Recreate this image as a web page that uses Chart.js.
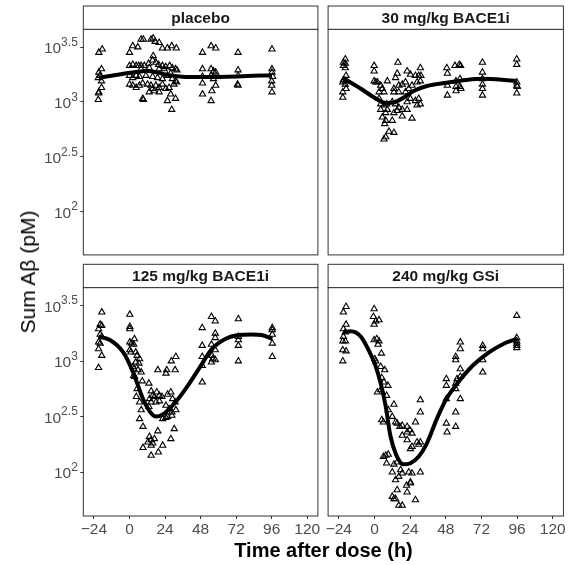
<!DOCTYPE html>
<html>
<head>
<meta charset="utf-8">
<script src="https://cdn.jsdelivr.net/npm/chart.js@4/dist/chart.umd.min.js"></script>
<style>
  body { margin: 0; background: #fff; }
  #wrap { position: relative; width: 569px; height: 565px; font-family: "Liberation Sans", Arial, sans-serif; }
  #wrap canvas { position: absolute; }
  .ttl { position: absolute; white-space: nowrap; color: #000; font-size: 20px; line-height: 22px; }
</style>
</head>
<body>
<div id="wrap">
  <canvas id="cTL" width="323" height="260" style="left:0;top:0"></canvas>
  <canvas id="cTR" width="246" height="260" style="left:323px;top:0"></canvas>
  <canvas id="cBL" width="323" height="305" style="left:0;top:260px"></canvas>
  <canvas id="cBR" width="246" height="305" style="left:323px;top:260px"></canvas>
  <div class="ttl" style="left:83px;width:481px;top:539px;text-align:center;font-weight:bold">Time after dose (h)</div>
  <div class="ttl" style="left:28px;top:272px;font-size:21px;transform:translate(-50%,-50%) rotate(-90deg)">Sum Aβ (pM)</div>
</div>
<script>
// Valeurs : [temps (h), log10 de Sum Abeta (pM)]
const panelTitles = ["placebo", "30 mg/kg BACE1i", "125 mg/kg BACE1i", "240 mg/kg GSi"];

const xTickValues = [-24, 0, 24, 48, 72, 96, 120];
const xTickLabels = ["\u221224", "0", "24", "48", "72", "96", "120"];
const yTickValues = [2, 2.5, 3, 3.5];
const yTickExps = ["2", "2.5", "3", "3.5"];

const placeboPts = [
  [-18.4,3.48],[-20.7,3.45],[-18.9,3.30],[-20.7,3.27],[-20.0,3.24],[-21.1,3.22],[-18.9,3.19],[-18.9,3.13],[-20.7,3.09],[-20.9,3.08],[-21.1,3.02],
  [2.2,3.51],[5.6,3.50],[0.0,3.45],[7.8,3.57],[9.3,3.57],[14.5,3.57],[16.0,3.58],[17.3,3.55],[20.0,3.54],[22.2,3.49],[25.6,3.49],[28.5,3.51],[31.6,3.49],
  [0.0,3.33],[2.2,3.34],[4.5,3.33],[6.2,3.33],[7.8,3.33],[10.0,3.33],[12.9,3.35],[16.0,3.42],[15.6,3.38],[17.8,3.36],[19.6,3.34],[22.2,3.33],[24.5,3.32],
  [27.1,3.33],[28.9,3.31],[31.1,3.30],[32.0,3.29],[23.3,3.30],[20.0,3.30],[13.3,3.31],[7.8,3.30],
  [0.0,3.24],[2.2,3.22],[4.5,3.24],[6.7,3.23],[11.1,3.24],[15.6,3.23],[18.9,3.22],[22.2,3.21],[25.6,3.24],[27.8,3.26],[28.9,3.21],[31.1,3.19],
  [0.0,3.16],[2.2,3.15],[4.5,3.13],[6.7,3.15],[8.9,3.17],[12.2,3.16],[14.5,3.15],[15.6,3.12],[17.8,3.15],[20.0,3.13],[22.2,3.16],[24.5,3.12],[26.7,3.13],
  [30.0,3.16],[31.8,3.18],
  [8.9,3.03],[13.3,3.09],[16.7,3.10],[20.0,3.09],[27.8,3.07],[31.1,3.03],[25.6,3.01],[28.5,2.93],[9.3,3.02],
  [49.3,3.45],[55.1,3.51],[58.2,3.49],[49.3,3.30],[55.1,3.30],[56.7,3.28],[58.2,3.27],[49.3,3.23],[55.1,3.24],[56.7,3.21],[58.2,3.15],[49.3,3.17],
  [49.3,3.07],[55.6,3.10],[55.1,3.01],
  [73.3,3.45],[73.3,3.29],[73.3,3.24],[72.9,3.16],[73.3,3.15],
  [96.2,3.48],[96.2,3.30],[96.2,3.27],[96.7,3.23],[96.0,3.19],[96.0,3.15],[96.2,3.09]
];
const placeboFit = [[-20.7,3.22],[-5,3.255],[8.9,3.28],[11.1,3.285],[18,3.27],[26.7,3.244],[35.6,3.229],[48.9,3.226],[73.3,3.232],[96.2,3.244]];

const bace30Pts = [
  [-19.6,3.39],[-20.9,3.36],[-19.6,3.35],[-20.9,3.33],[-19.6,3.31],[-19.1,3.24],[-20.9,3.20],[-19.6,3.19],[-21.3,3.18],[-19.6,3.16],[-19.1,3.12],
  [-21.3,3.09],[-21.3,3.04],
  [-0.2,3.33],[-0.2,3.28],[15.8,3.36],[30.9,3.31],[22.0,3.28],[-0.2,3.19],[0.9,3.18],[2.0,3.18],[8.7,3.19],[15.3,3.26],[14.2,3.22],[24.2,3.25],
  [27.6,3.24],[29.8,3.24],[31.3,3.24],[28.7,3.18],[30.9,3.19],[20.9,3.18],[18.7,3.16],[16.4,3.15],[13.1,3.12],[4.2,3.15],[5.3,3.12],[3.1,3.09],
  [6.4,3.09],[13.1,3.09],[16.4,3.09],[3.1,3.03],[4.2,2.98],[6.4,2.97],[8.2,2.98],[12.0,3.00],[14.2,2.98],[16.4,2.95],[18.7,2.93],[22.0,2.93],
  [24.2,3.03],[27.6,3.01],[29.8,3.03],[30.9,2.98],[28.7,2.97],[7.6,2.90],[5.3,2.86],[7.6,2.83],[12.0,2.83],[15.3,2.92],[18.7,2.87],[25.3,2.85],
  [6.9,2.80],[9.8,2.73],[13.1,2.72],[7.6,2.68],[6.4,2.66],[20.9,3.09],[23.1,3.12],[25.3,3.15],[4.2,2.93],[8.7,2.93],[13.1,2.90],[22.0,3.00],
  [48.7,3.31],[49.1,3.26],[54.2,3.33],[57.1,3.34],[58.0,3.33],[49.1,3.15],[54.9,3.19],[57.6,3.21],[54.9,3.14],[57.6,3.14],[54.9,3.10],[58.2,3.12],
  [49.1,3.06],
  [72.7,3.36],[72.7,3.27],[72.7,3.21],[72.7,3.16],[72.7,3.12],[72.7,3.06],
  [95.8,3.39],[95.8,3.34],[95.8,3.18],[95.8,3.15],[96.2,3.14],[95.8,3.08]
];
const bace30Fit = [[-20.9,3.215],[-9.1,3.12],[-0.2,3.04],[7.6,2.99],[14.2,3.00],[19.8,3.04],[26.4,3.10],[35.3,3.145],[48.7,3.175],[62,3.20],
  [73.1,3.21],[84.2,3.205],[95.8,3.19]];

const bace125Pts = [
  [-18.7,3.44],[-19.8,3.33],[-18.7,3.32],[-20.9,3.29],[-19.8,3.24],[-18.7,3.22],[-20.9,3.17],[-19.8,3.16],[-20.9,3.11],[-18.7,3.05],[-20.9,2.94],
  [0.2,3.42],[0.2,3.31],[0.2,3.29],[0.2,3.17],[1.3,3.16],[0.2,3.10],[0.9,3.08],[3.3,3.20],
  [2.8,3.15],[4.2,3.08],[5.1,3.05],[6.8,3.02],[6.4,2.98],[4.2,2.99],[2.4,2.95],[3.0,2.93],
  [2.8,2.87],[3.5,2.86],[5.7,2.92],[7.9,2.90],[8.6,2.82],[5.1,2.75],[4.6,2.68],[6.8,2.63],[7.9,2.56],[6.8,2.48],[9.1,2.41],
  [13.1,2.80],[14.6,2.73],[15.7,2.69],[13.5,2.66],[16.8,2.68],[18.4,2.72],[20.2,2.69],[21.9,2.68],[14.6,2.63],[17.9,2.63],[20.2,2.64],[13.1,2.59],
  [13.5,2.32],[14.6,2.29],[12.4,2.27],[15.7,2.26],[16.8,2.30],[14.6,2.24],[14.6,2.15],[9.1,2.22],[19.1,2.37],[22.4,2.24],[19.5,2.18],[27.9,2.30],
  [19.1,2.92],[25.1,2.92],[24.6,2.89],[28.2,3.00],[31.3,3.04],[30.8,2.92],[25.7,2.70],[27.9,2.72],[29.1,2.66],[24.6,2.60],[26.8,2.57],[28.6,2.54],
  [31.3,2.56],[25.7,2.50],[28.6,2.51],[30.8,2.63],[30.2,2.39],[22.4,2.48],[24.6,2.49],
  [49.1,3.30],[49.1,3.14],[49.1,3.04],[49.1,2.96],[49.1,2.81],[55.3,3.40],[57.9,3.36],[57.9,3.25],[57.9,3.21],[55.3,3.15],[57.9,3.10],[55.7,3.05],
  [55.3,2.99],[57.9,3.01],[56.2,3.02],
  [73.5,3.38],[73.5,3.22],[73.5,3.19],[73.5,3.14],[73.5,3.00],
  [96.4,3.30],[96.4,3.28],[96.4,3.24],[96.4,3.16],[96.4,3.04]
];
const bace125Fit = [[-20.9,3.22],[-13.2,3.19],[-4.3,3.08],[2.4,2.90],[9.1,2.66],[14.6,2.53],[17.9,2.50],[22.4,2.52],[29.1,2.60],[37.9,2.75],
  [46.8,2.93],[55.7,3.11],[64.6,3.20],[73.5,3.235],[82.4,3.24],[89.1,3.235],[96.4,3.20]];

const gsi240Pts = [
  [-19.1,3.49],[-20.9,3.44],[-19.1,3.33],[-20.9,3.29],[-19.6,3.26],[-20.9,3.22],[-21.3,3.18],[-19.6,3.18],[-21.3,3.10],[-19.1,3.09],[-21.3,3.00],
  [-0.2,3.47],[-0.7,3.40],[0.9,3.36],[-0.2,3.33],[3.1,3.37],[-0.2,3.19],[1.6,3.20],[3.1,3.18],[2.4,3.15],[4.7,3.07],[0.2,3.02],[0.9,3.00],
  [4.2,2.95],[6.9,2.92],[4.9,2.85],[6.4,2.81],[9.1,2.78],[2.0,2.72],[4.2,2.74],[8.2,2.69],[13.1,2.61],[30.9,2.65],[30.9,2.54],
  [9.3,2.56],[4.9,2.47],[6.0,2.45],[12.0,2.50],[14.2,2.45],[17.1,2.41],[15.3,2.44],[18.7,2.42],[22.0,2.41],[22.0,2.36],[18.7,2.33],[23.8,2.38],
  [25.3,2.35],[27.6,2.45],[22.0,2.29],[25.3,2.23],[24.2,2.21],[29.8,2.25],[30.9,2.27],[28.7,2.27],[9.3,2.16],[7.6,2.15],[6.0,2.14],[8.2,2.08],
  [13.1,2.07],[15.3,2.09],[12.0,2.00],[17.6,2.02],[18.7,1.99],[23.1,2.00],[25.3,1.99],[30.9,2.00],[14.2,1.93],[16.4,1.96],[21.6,1.88],[24.2,1.91],
  [24.2,1.90],[15.3,1.84],[22.0,1.82],[12.0,1.78],[13.1,1.76],[14.2,1.76],[16.4,1.70],[18.7,1.70],[27.6,1.75],
  [48.4,2.84],[48.4,2.78],[54.7,2.80],[54.7,2.75],[48.4,2.66],[57.8,2.66],[54.7,2.54],[48.4,2.44],[48.9,2.36],[54.7,2.41],[57.8,3.17],[57.8,3.11],
  [54.7,3.04],[54.7,3.01],[57.8,2.93],[57.8,2.86],[55.6,2.84],
  [72.9,3.14],[72.9,3.11],[72.9,3.01],[72.9,2.90],
  [95.8,3.41],[95.8,3.21],[95.8,3.18],[95.8,3.16],[95.8,3.14],[95.8,3.12]
];
const gsi240Fit = [[-20.9,3.26],[-16,3.27],[-9.1,3.22],[-2.5,3.06],[0.7,2.96],[4.2,2.80],[7.5,2.60],[10.7,2.33],[14.5,2.16],[19.5,2.07],[24.2,2.08],
  [29.8,2.14],[35.3,2.26],[42,2.48],[48,2.65],[54.7,2.78],[66.2,2.96],[77.3,3.08],[88.4,3.165],[95.8,3.20]];

const FONT = '"Liberation Sans", Arial, sans-serif';
const STRIP_H = 23.3;

// cadre du panneau, bandeau de titre et etiquettes 10^x
const facetPlugin = {
  id: "facet",
  afterDraw(chart, args, opts) {
    const { ctx, chartArea: a } = chart;
    ctx.save();
    ctx.strokeStyle = "#333";
    ctx.lineWidth = 1;
    ctx.strokeRect(a.left, a.top, a.right - a.left, a.bottom - a.top);
    ctx.fillStyle = "#fff";
    ctx.fillRect(a.left, a.top - STRIP_H, a.right - a.left, STRIP_H);
    ctx.strokeRect(a.left, a.top - STRIP_H, a.right - a.left, STRIP_H);
    ctx.fillStyle = "#1a1a1a";
    ctx.font = "bold 15.5px " + FONT;
    ctx.textAlign = "center";
    ctx.textBaseline = "middle";
    ctx.fillText(opts.title, (a.left + a.right) / 2, a.top - STRIP_H / 2 + 1);

    if (opts.yLabels) {
      const ys = chart.scales.y;
      ctx.fillStyle = "#4d4d4d";
      ctx.textAlign = "left";
      yTickValues.forEach((v, i) => {
        const py = ys.getPixelForValue(v);
        ctx.font = "15.5px " + FONT;
        const w10 = ctx.measureText("10").width;
        ctx.font = "12px " + FONT;
        const wE = ctx.measureText(yTickExps[i]).width;
        const x0 = a.left - 5.5 - wE - w10;
        ctx.font = "15.5px " + FONT;
        ctx.fillText("10", x0, py + 2);
        ctx.font = "12px " + FONT;
        ctx.fillText(yTickExps[i], x0 + w10, py - 4.5);
      });
    }
    ctx.restore();
  },
};

const toXY = arr => arr.map(([x, y]) => ({ x, y }));

function panel(id, title, pts, fit, showX, showY, pad, axisH) {
  new Chart(document.getElementById(id), {
    type: "scatter",
    data: {
      datasets: [
        {
          type: "line",
          data: toXY(fit),
          borderColor: "#000",
          borderWidth: 4,
          pointRadius: 0,
          cubicInterpolationMode: "monotone",
          fill: false,
        },
        {
          data: toXY(pts),
          pointStyle: "triangle",
          pointRadius: 3.6,
          borderColor: "#000",
          backgroundColor: "rgba(0,0,0,0)",
          borderWidth: 1.1,
        },
      ],
    },
    options: {
      responsive: false,
      animation: false,
      events: [],
      layout: { padding: pad },
      plugins: {
        legend: { display: false },
        tooltip: { enabled: false },
        facet: { title, yLabels: showY },
      },
      scales: {
        x: {
          type: "linear",
          display: showX,
          min: -31.2,
          max: 127.2,
          afterBuildTicks: s => { s.ticks = xTickValues.map(v => ({ value: v })); },
          afterFit: s => { s.height = showX ? axisH : 0; s.paddingLeft = 0; s.paddingRight = 0; },
          ticks: {
            autoSkip: false,
            maxRotation: 0,
            padding: 1,
            color: "#4d4d4d",
            font: { family: FONT, size: 15.5 },
            callback: v => xTickLabels[xTickValues.indexOf(v)],
          },
          grid: { display: true, drawOnChartArea: false, drawTicks: true, tickLength: 3, color: "#333" },
          border: { display: false },
        },
        y: {
          type: "linear",
          display: showY,
          min: 1.605,
          max: 3.662,
          afterBuildTicks: s => { s.ticks = yTickValues.map(v => ({ value: v })); },
          afterFit: s => { s.width = showY ? 83.3 : 0; s.paddingTop = 0; s.paddingBottom = 0; },
          ticks: { display: false },
          grid: { display: true, drawOnChartArea: false, drawTicks: true, tickLength: 3, color: "#333" },
          border: { display: false },
        },
      },
    },
    plugins: [facetPlugin],
  });
}

panel("cTL", panelTitles[0], placeboPts, placeboFit, false, true, { top: 29.3, right: 2.4, bottom: 2.3, left: 0 }, 0);
panel("cTR", panelTitles[1], bace30Pts, bace30Fit, false, false, { top: 29.3, right: 5.6, bottom: 2.3, left: 4 }, 0);
panel("cBL", panelTitles[2], bace125Pts, bace125Fit, true, true, { top: 27.6, right: 2.4, bottom: 0, left: 0 }, 49);
panel("cBR", panelTitles[3], gsi240Pts, gsi240Fit, true, false, { top: 27.6, right: 5.6, bottom: 0, left: 4 }, 49);
</script>
</body>
</html>
